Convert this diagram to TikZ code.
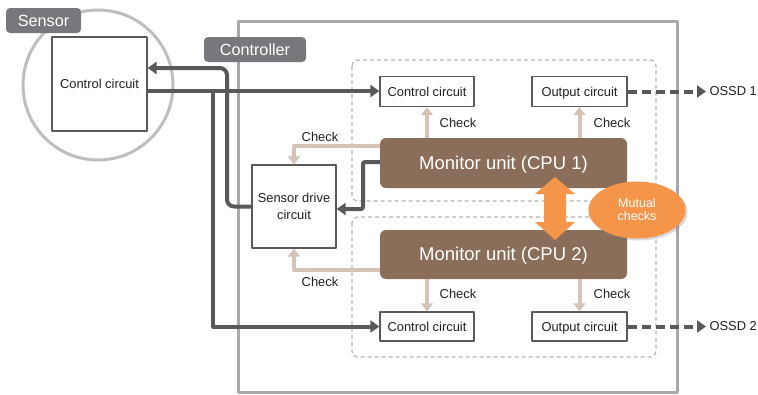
\documentclass[tikz,border=0pt]{standalone}
\usepackage{fontspec}
\setmainfont{Liberation Sans}
\usetikzlibrary{arrows.meta,shapes.geometric,shadows}
\definecolor{darkline}{HTML}{58595B}
\definecolor{framegray}{HTML}{A7A9AC}
\definecolor{circgray}{HTML}{BCBEC0}
\definecolor{taggray}{HTML}{77787B}
\definecolor{cpubrown}{HTML}{8B6E5A}
\definecolor{checktan}{HTML}{D4C3B6}
\definecolor{mutualorange}{HTML}{F5954A}
\definecolor{dashgray}{HTML}{B1B3B6}
\definecolor{inkblack}{HTML}{231F20}
\tikzset{
	circ/.style={draw=darkline,line width=1.3pt,fill=white,text=inkblack,font=\fontsize{12.9}{16.5}\selectfont,inner sep=0pt,align=center},
	oneline/.style={circ,text height=9.2pt,text depth=0pt},
	cpu/.style={fill=cpubrown,rounded corners=6pt,text=white,font=\fontsize{18.5}{20}\selectfont,minimum width=247pt,minimum height=50pt,inner sep=0pt,text height=13.2pt,text depth=0.5pt},
	tagbox/.style={fill=taggray,rounded corners=4pt,text=white,font=\fontsize{16.2}{18}\selectfont,inner sep=0pt,minimum height=25pt,text height=11.6pt,text depth=0pt},
	sig/.style={draw=darkline,line width=4pt,-{Triangle[length=9pt,width=12pt]}},
	chk/.style={draw=checktan,line width=4pt,-{Triangle[length=8pt,width=12pt]}},
	chktext/.style={font=\fontsize{12.9}{14}\selectfont,text=inkblack},
	grpbox/.style={draw=dashgray,line width=1.2pt,dash pattern=on 4pt off 3pt,rounded corners=6pt}
}
\begin{document}
\begin{tikzpicture}[x=1pt,y=-1pt,line join=round]
	\useasboundingbox (0,0) rectangle (758,394);
	\draw[circgray,line width=3pt] (98,85) circle (75pt);
	\draw[framegray,line width=3pt] (238,21) rectangle (677,392);
	\draw[grpbox] (352,60) rectangle (656,201);
	\draw[grpbox] (352,217) rectangle (656,357);
	
	\node[oneline,minimum width=95pt,minimum height=94pt] (sctrl) at (99.5,84) {Control circuit};
	\node[tagbox,minimum width=75pt] (sensortag) at (43.5,20.5) {Sensor};
	\node[tagbox,minimum width=102pt] (ctrltag) at (255,49.5) {Controller};
	\node[circ,minimum width=84pt,minimum height=83pt] (sdrive) at (294,206.5) {Sensor drive\\circuit};
	\node[oneline,minimum width=94pt,minimum height=30pt] (ctrl1) at (427,91.5) {Control circuit};
	\node[oneline,minimum width=95pt,minimum height=30pt] (out1) at (579.5,91.5) {Output circuit};
	\node[oneline,minimum width=94pt,minimum height=29pt] (ctrl2) at (427,326.5) {Control circuit};
	\node[oneline,minimum width=95pt,minimum height=29pt] (out2) at (579.5,326.5) {Output circuit};
	\node[cpu] (cpu1) at (503.5,163) {Monitor unit (CPU 1)};
	\node[cpu,minimum height=49pt] (cpu2) at (503.5,254.5) {Monitor unit (CPU 2)};
	\node[chktext,anchor=west] (ossd1) at (706,91.5) {OSSD 1};
	\node[chktext,anchor=west] (ossd2) at (706,326.5) {OSSD 2};
	
	\coordinate (br) at (213,91);
	\coordinate (ret) at (227,68);
	\coordinate (dv) at (363,209);
	\coordinate (c1) at (380,146);
	\coordinate (c2) at (380,270);
	\draw[sig] (sctrl.east |- br) -- (br -| ctrl1.west);
	\draw[sig] (br) |- (ctrl2.west);
	\draw[sig,rounded corners=7pt] (sdrive.west) -| (ret) -- (ret -| sctrl.east);
	\draw[sig,rounded corners=2pt] (cpu1.west |- 0,162) -| (dv) -- (dv -| sdrive.east);
	\draw[sig,dash pattern=on 9pt off 5pt] (out1.east) -- (ossd1.west);
	\draw[sig,dash pattern=on 9pt off 5pt] (out2.east) -- (ossd2.west);
	
	\draw[chk] (cpu1.north -| ctrl1) -- (ctrl1.south);
	\draw[chk] (cpu1.north -| out1) -- (out1.south);
	\draw[chk] (cpu2.south -| ctrl2) -- (ctrl2.north);
	\draw[chk] (cpu2.south -| out2) -- (out2.north);
	\draw[chk] (c1) -| (sdrive.north);
	\draw[chk] (c2) -| (sdrive.south);
	\node[chktext] (chkc1) at (458,123) {Check};
	\node[chktext] (chko1) at (612,123) {Check};
	\node[chktext] (chkc2) at (458,294) {Check};
	\node[chktext] (chko2) at (612,294) {Check};
	\node[chktext] (chks1) at (320,137) {Check};
	\node[chktext] (chks2) at (320,282) {Check};
	
	\fill[mutualorange] (555,177) -- (575,194) -- (566,194) -- (566,222) -- (575,222) -- (555,240)
	-- (535,222) -- (544,222) -- (544,194) -- (535,194) -- cycle;
	\node[ellipse,fill=mutualorange,minimum width=97pt,minimum height=57pt,inner sep=0pt,text=white,
	font=\fontsize{12.5}{13}\selectfont,align=center,
	drop shadow={opacity=0.3,shadow xshift=2pt,shadow yshift=-2pt}] (mutual) at (637,210) {Mutual\\checks};
\end{tikzpicture}
\end{document}
